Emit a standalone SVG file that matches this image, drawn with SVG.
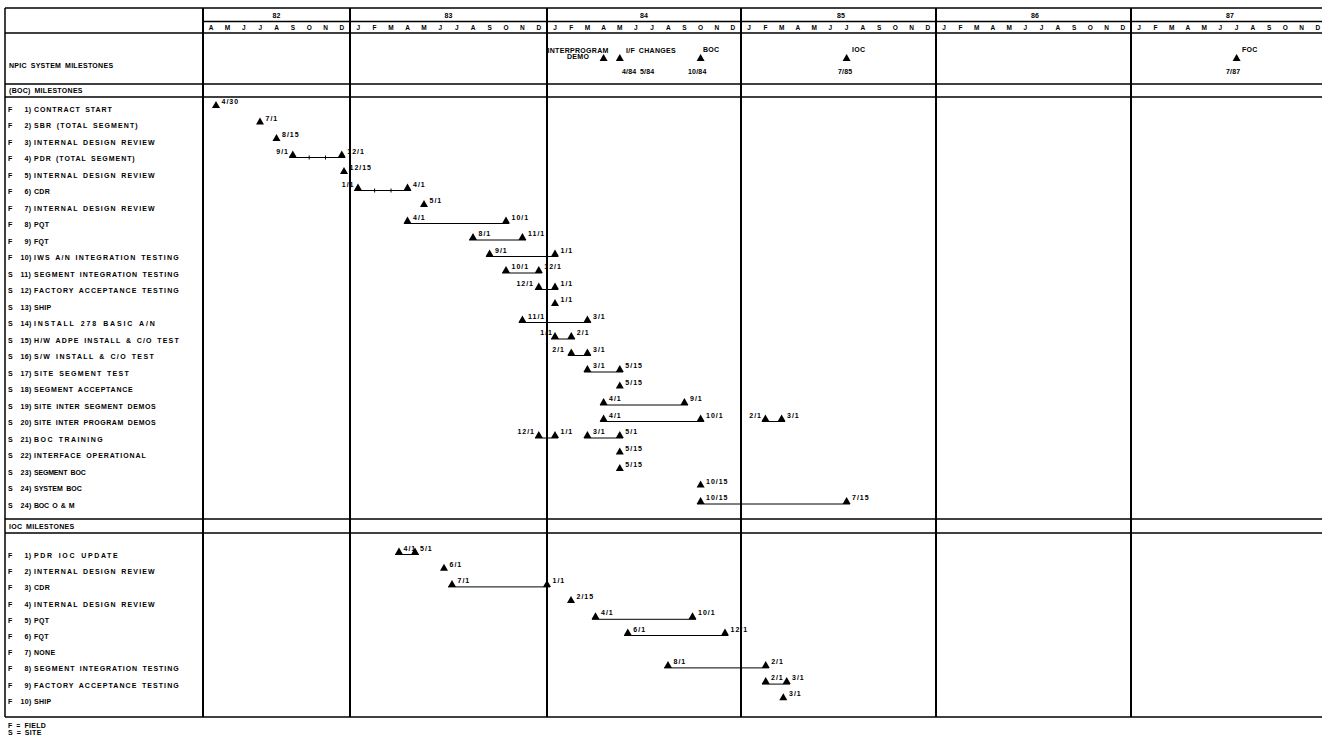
<svg xmlns="http://www.w3.org/2000/svg" width="1322" height="740" viewBox="0 0 1322 740">
<style>
.t{font-family:"Liberation Sans",Arial,sans-serif;font-weight:bold;font-size:7px;fill:#000;letter-spacing:0.3px;word-spacing:1.5px}
.d{font-family:"Liberation Sans",Arial,sans-serif;font-weight:bold;font-size:7px;fill:#000;letter-spacing:1px}
.n{font-family:"Liberation Sans",Arial,sans-serif;font-weight:bold;font-size:7px;fill:#000;letter-spacing:0.2px}
.e{text-anchor:end}
.m{font-family:"Liberation Sans",Arial,sans-serif;font-weight:bold;font-size:6.5px;fill:#000;text-anchor:middle}
.y{font-family:"Liberation Sans",Arial,sans-serif;font-weight:bold;font-size:7px;fill:#000;text-anchor:middle}
.g{stroke:#000;stroke-width:1.5;fill:none}
.v{stroke:#000;stroke-width:2;fill:none}
.bar{stroke:#000;stroke-width:1;fill:none}
</style>
<defs>
<path id="tri" d="M-4,0 L4,0 L0,-7 Z" fill="#000"/>
</defs>
<rect width="1322" height="740" fill="#fff"/>

<g id="grid">
<line class="g" x1="5" y1="8" x2="1322" y2="8"/>
<line class="g" x1="203" y1="21.5" x2="1322" y2="21.5"/>
<line class="g" x1="5" y1="33" x2="1322" y2="33"/>
<line class="g" x1="5" y1="84" x2="1322" y2="84"/>
<line class="g" x1="5" y1="97" x2="1322" y2="97"/>
<line class="g" x1="5" y1="519" x2="1322" y2="519"/>
<line class="g" x1="5" y1="533" x2="1322" y2="533"/>
<line class="g" x1="5" y1="717" x2="1322" y2="717"/>
<line class="g" x1="5" y1="8" x2="5" y2="717"/>
<line class="v" x1="203" y1="8" x2="203" y2="717"/>
<line class="v" x1="350" y1="8" x2="350" y2="717"/>
<line class="v" x1="547" y1="8" x2="547" y2="717"/>
<line class="v" x1="741" y1="8" x2="741" y2="717"/>
<line class="v" x1="936" y1="8" x2="936" y2="717"/>
<line class="v" x1="1131" y1="8" x2="1131" y2="717"/>
</g>

<g id="header">
<text class="y" x="276.5" y="17.5">82</text>
<text class="y" x="448.5" y="17.5">83</text>
<text class="y" x="644" y="17.5">84</text>
<text class="y" x="841" y="17.5">85</text>
<text class="y" x="1035" y="17.5">86</text>
<text class="y" x="1230" y="17.5">87</text>
<text class="m" y="30" x="211.2 219.4 227.5 235.7 243.8 252 260.2 268.4 276.5 284.7 292.8 301 309.2 317.4 325.5 333.7 341.8">A M J J A S O N D</text>
<text class="m" y="30" x="358.2 366.4 374.6 382.8 391 399.3 407.5 415.7 423.9 432.1 440.3 448.5 456.7 464.9 473.1 481.4 489.6 497.8 506 514.2 522.4 530.6 538.8">J F M A M J J A S O N D</text>
<text class="m" y="30" x="555.1 563.2 571.3 579.4 587.4 595.5 603.6 611.7 619.8 627.9 635.9 644 652.1 660.2 668.3 676.4 684.4 692.5 700.6 708.7 716.8 724.9 732.9">J F M A M J J A S O N D</text>
<text class="m" y="30" x="749.1 757.3 765.4 773.5 781.6 789.8 797.9 806 814.1 822.3 830.4 838.5 846.6 854.8 862.9 871 879.1 887.3 895.4 903.5 911.6 919.8 927.9">J F M A M J J A S O N D</text>
<text class="m" y="30" x="944.1 952.3 960.4 968.5 976.6 984.8 992.9 1001 1009.1 1017.3 1025.4 1033.5 1041.6 1049.8 1057.9 1066 1074.1 1082.3 1090.4 1098.5 1106.6 1114.8 1122.9">J F M A M J J A S O N D</text>
<text class="m" y="30" x="1139.1 1147.3 1155.4 1163.5 1171.6 1179.8 1187.9 1196 1204.1 1212.3 1220.4 1228.5 1236.6 1244.8 1252.9 1261 1269.1 1277.3 1285.4 1293.5 1301.6 1309.8 1317.9">J F M A M J J A S O N D</text>
</g>

<g id="npic-milestones">
<text class="t" x="9" y="67.5">NPIC SYSTEM MILESTONES</text>
<text class="t" x="547.5" y="52.5">INTERPROGRAM</text>
<text class="t" x="567" y="59">DEMO</text>
<text class="t" x="626" y="52.5">I/F CHANGES</text>
<text class="t" x="703" y="51.5">BOC</text>
<text class="t" x="852" y="52">IOC</text>
<text class="t" x="1242" y="52">FOC</text>
<use href="#tri" x="603.6" y="61"/>
<use href="#tri" x="619.8" y="61"/>
<use href="#tri" x="700.6" y="61"/>
<use href="#tri" x="846.6" y="61"/>
<use href="#tri" x="1236.6" y="61"/>
<text class="n" x="622" y="73.5">4/84</text>
<text class="n" x="640" y="73.5">5/84</text>
<text class="n" x="688" y="73.5">10/84</text>
<text class="n" x="838" y="73.5">7/85</text>
<text class="n" x="1226" y="73.5">7/87</text>
</g>

<g id="boc-header"><text class="t" x="9" y="92.5">(BOC) MILESTONES</text></g>

<g id="connectors">
<line class="bar" x1="289" y1="157.5" x2="345" y2="157.5"/>
<line class="bar" x1="309.2" y1="155.5" x2="309.2" y2="159.5"/>
<line class="bar" x1="325.5" y1="155.5" x2="325.5" y2="159.5"/>
<line class="bar" x1="354" y1="190.5" x2="411" y2="190.5"/>
<line class="bar" x1="374.6" y1="188.5" x2="374.6" y2="192.5"/>
<line class="bar" x1="391" y1="188.5" x2="391" y2="192.5"/>
<line class="bar" x1="404" y1="223.5" x2="509" y2="223.5"/>
<line class="bar" x1="469" y1="240" x2="526" y2="240"/>
<line class="bar" x1="486" y1="256.5" x2="558" y2="256.5"/>
<line class="bar" x1="502" y1="273" x2="542" y2="273"/>
<line class="bar" x1="535" y1="289.5" x2="558" y2="289.5"/>
<line class="bar" x1="519" y1="322.5" x2="591" y2="322.5"/>
<line class="bar" x1="551" y1="339" x2="575" y2="339"/>
<line class="bar" x1="568" y1="355.5" x2="591" y2="355.5"/>
<line class="bar" x1="584" y1="372" x2="623" y2="372"/>
<line class="bar" x1="600" y1="405" x2="688" y2="405"/>
<line class="bar" x1="600" y1="421.5" x2="704" y2="421.5"/>
<line class="bar" x1="762" y1="421.5" x2="785" y2="421.5"/>
<line class="bar" x1="535" y1="438" x2="558" y2="438"/>
<line class="bar" x1="584" y1="438" x2="623" y2="438"/>
<line class="bar" x1="697" y1="504" x2="850" y2="504"/>
<line class="bar" x1="395" y1="554.5" x2="419" y2="554.5"/>
<line class="bar" x1="448" y1="586.9" x2="550" y2="586.9"/>
<line class="bar" x1="592" y1="619.3" x2="696" y2="619.3"/>
<line class="bar" x1="624" y1="635.5" x2="728" y2="635.5"/>
<line class="bar" x1="664" y1="667.9" x2="769" y2="667.9"/>
<line class="bar" x1="762" y1="684.1" x2="790" y2="684.1"/>
</g>

<g id="boc-1" transform="translate(0,108)"><text class="t" y="3.5"><tspan x="8">F</tspan> <tspan x="24.5">1)</tspan> <tspan x="34" textLength="78" lengthAdjust="spacing">CONTRACT START</tspan></text>
<use href="#tri" x="216"/><text class="d" x="221.5" y="-4">4/30</text></g>
<g id="boc-2" transform="translate(0,124.5)"><text class="t" y="3.5"><tspan x="8">F</tspan> <tspan x="24.5">2)</tspan> <tspan x="34" textLength="104" lengthAdjust="spacing">SBR (TOTAL SEGMENT)</tspan></text>
<use href="#tri" x="260"/><text class="d" x="265.5" y="-4">7/1</text></g>
<g id="boc-3" transform="translate(0,141)"><text class="t" y="3.5"><tspan x="8">F</tspan> <tspan x="24.5">3)</tspan> <tspan x="34" textLength="121" lengthAdjust="spacing">INTERNAL DESIGN REVIEW</tspan></text>
<use href="#tri" x="276.5"/><text class="d" x="282" y="-4">8/15</text></g>
<g id="boc-4" transform="translate(0,157.5)"><text class="t" y="3.5"><tspan x="8">F</tspan> <tspan x="24.5">4)</tspan> <tspan x="34" textLength="101" lengthAdjust="spacing">PDR (TOTAL SEGMENT)</tspan></text>
<use href="#tri" x="292.8"/><text class="d e" x="289" y="-4">9/1</text>
<use href="#tri" x="341.8"/><text class="d" x="347.3" y="-4">12/1</text></g>
<g id="boc-5" transform="translate(0,174)"><text class="t" y="3.5"><tspan x="8">F</tspan> <tspan x="24.5">5)</tspan> <tspan x="34" textLength="121" lengthAdjust="spacing">INTERNAL DESIGN REVIEW</tspan></text>
<use href="#tri" x="344"/><text class="d" x="349.5" y="-4">12/15</text></g>
<g id="boc-6" transform="translate(0,190.5)"><text class="t" y="3.5"><tspan x="8">F</tspan> <tspan x="24.5">6)</tspan> <tspan x="34">CDR</tspan></text>
<use href="#tri" x="358"/><text class="d e" x="354.5" y="-4">1/1</text>
<use href="#tri" x="407.5"/><text class="d" x="413" y="-4">4/1</text></g>
<g id="boc-7" transform="translate(0,207)"><text class="t" y="3.5"><tspan x="8">F</tspan> <tspan x="24.5">7)</tspan> <tspan x="34" textLength="121" lengthAdjust="spacing">INTERNAL DESIGN REVIEW</tspan></text>
<use href="#tri" x="424"/><text class="d" x="429.5" y="-4">5/1</text></g>
<g id="boc-8" transform="translate(0,223.5)"><text class="t" y="3.5"><tspan x="8">F</tspan> <tspan x="24.5">8)</tspan> <tspan x="34">PQT</tspan></text>
<use href="#tri" x="407.5"/><text class="d" x="413" y="-4">4/1</text>
<use href="#tri" x="506"/><text class="d" x="511.5" y="-4">10/1</text></g>
<g id="boc-9" transform="translate(0,240)"><text class="t" y="3.5"><tspan x="8">F</tspan> <tspan x="24.5">9)</tspan> <tspan x="34">FQT</tspan></text>
<use href="#tri" x="473"/><text class="d" x="478.5" y="-4">8/1</text>
<use href="#tri" x="522.4"/><text class="d" x="528" y="-4">11/1</text></g>
<g id="boc-10" transform="translate(0,256.5)"><text class="t" y="3.5"><tspan x="8">F</tspan> <tspan x="20.5">10)</tspan> <tspan x="34" textLength="145" lengthAdjust="spacing">IWS A/N INTEGRATION TESTING</tspan></text>
<use href="#tri" x="489.6"/><text class="d" x="495" y="-4">9/1</text>
<use href="#tri" x="555"/><text class="d" x="560.5" y="-4">1/1</text></g>
<g id="boc-11" transform="translate(0,273)"><text class="t" y="3.5"><tspan x="8">S</tspan> <tspan x="20.5">11)</tspan> <tspan x="34" textLength="145" lengthAdjust="spacing">SEGMENT INTEGRATION TESTING</tspan></text>
<use href="#tri" x="506"/><text class="d" x="511.5" y="-4">10/1</text>
<use href="#tri" x="538.8"/><text class="d" x="544.3" y="-4">12/1</text></g>
<g id="boc-12" transform="translate(0,289.5)"><text class="t" y="3.5"><tspan x="8">S</tspan> <tspan x="20.5">12)</tspan> <tspan x="34" textLength="145" lengthAdjust="spacing">FACTORY ACCEPTANCE TESTING</tspan></text>
<use href="#tri" x="538.8"/><text class="d e" x="534" y="-4">12/1</text>
<use href="#tri" x="555"/><text class="d" x="560.5" y="-4">1/1</text></g>
<g id="boc-13" transform="translate(0,306)"><text class="t" y="3.5"><tspan x="8">S</tspan> <tspan x="20.5">13)</tspan> <tspan x="34">SHIP</tspan></text>
<use href="#tri" x="555"/><text class="d" x="560.5" y="-4">1/1</text></g>
<g id="boc-14" transform="translate(0,322.5)"><text class="t" y="3.5"><tspan x="8">S</tspan> <tspan x="20.5">14)</tspan> <tspan x="34" textLength="121" lengthAdjust="spacing">INSTALL 278 BASIC A/N</tspan></text>
<use href="#tri" x="522.4"/><text class="d" x="528" y="-4">11/1</text>
<use href="#tri" x="587.4"/><text class="d" x="593" y="-4">3/1</text></g>
<g id="boc-15" transform="translate(0,339)"><text class="t" y="3.5"><tspan x="8">S</tspan> <tspan x="20.5">15)</tspan> <tspan x="34" textLength="145" lengthAdjust="spacing">H/W ADPE INSTALL &amp; C/O TEST</tspan></text>
<use href="#tri" x="555"/><text class="d e" x="553" y="-4">1/1</text>
<use href="#tri" x="571.3"/><text class="d" x="576.8" y="-4">2/1</text></g>
<g id="boc-16" transform="translate(0,355.5)"><text class="t" y="3.5"><tspan x="8">S</tspan> <tspan x="20.5">16)</tspan> <tspan x="34" textLength="120" lengthAdjust="spacing">S/W INSTALL &amp; C/O TEST</tspan></text>
<use href="#tri" x="571.3"/><text class="d e" x="565" y="-4">2/1</text>
<use href="#tri" x="587.4"/><text class="d" x="593" y="-4">3/1</text></g>
<g id="boc-17" transform="translate(0,372)"><text class="t" y="3.5"><tspan x="8">S</tspan> <tspan x="20.5">17)</tspan> <tspan x="34" textLength="95" lengthAdjust="spacing">SITE SEGMENT TEST</tspan></text>
<use href="#tri" x="587.4"/><text class="d" x="593" y="-4">3/1</text>
<use href="#tri" x="619.8"/><text class="d" x="625.3" y="-4">5/15</text></g>
<g id="boc-18" transform="translate(0,388.5)"><text class="t" y="3.5"><tspan x="8">S</tspan> <tspan x="20.5">18)</tspan> <tspan x="34" textLength="99" lengthAdjust="spacing">SEGMENT ACCEPTANCE</tspan></text>
<use href="#tri" x="619.8"/><text class="d" x="625.3" y="-4">5/15</text></g>
<g id="boc-19" transform="translate(0,405)"><text class="t" y="3.5"><tspan x="8">S</tspan> <tspan x="20.5">19)</tspan> <tspan x="34" textLength="122" lengthAdjust="spacing">SITE INTER SEGMENT DEMOS</tspan></text>
<use href="#tri" x="603.6"/><text class="d" x="609" y="-4">4/1</text>
<use href="#tri" x="684.4"/><text class="d" x="690" y="-4">9/1</text></g>
<g id="boc-20" transform="translate(0,421.5)"><text class="t" y="3.5"><tspan x="8">S</tspan> <tspan x="20.5">20)</tspan> <tspan x="34" textLength="122" lengthAdjust="spacing">SITE INTER PROGRAM DEMOS</tspan></text>
<use href="#tri" x="603.6"/><text class="d" x="609" y="-4">4/1</text>
<use href="#tri" x="700.6"/><text class="d" x="706" y="-4">10/1</text>
<use href="#tri" x="765.4"/><text class="d e" x="762" y="-4">2/1</text>
<use href="#tri" x="781.6"/><text class="d" x="787" y="-4">3/1</text></g>
<g id="boc-21" transform="translate(0,438)"><text class="t" y="3.5"><tspan x="8">S</tspan> <tspan x="20.5">21)</tspan> <tspan x="34" textLength="69" lengthAdjust="spacing">BOC TRAINING</tspan></text>
<use href="#tri" x="538.8"/><text class="d e" x="535" y="-4">12/1</text>
<use href="#tri" x="555"/><text class="d" x="560.5" y="-4">1/1</text>
<use href="#tri" x="587.4"/><text class="d" x="593" y="-4">3/1</text>
<use href="#tri" x="619.8"/><text class="d" x="625.3" y="-4">5/1</text></g>
<g id="boc-22" transform="translate(0,454.5)"><text class="t" y="3.5"><tspan x="8">S</tspan> <tspan x="20.5">22)</tspan> <tspan x="34" textLength="112" lengthAdjust="spacing">INTERFACE OPERATIONAL</tspan></text>
<use href="#tri" x="619.8"/><text class="d" x="625.3" y="-4">5/15</text></g>
<g id="boc-23" transform="translate(0,471)"><text class="t" y="3.5"><tspan x="8">S</tspan> <tspan x="20.5">23)</tspan> <tspan x="34" textLength="52" lengthAdjust="spacing">SEGMENT BOC</tspan></text>
<use href="#tri" x="619.8"/><text class="d" x="625.3" y="-4">5/15</text></g>
<g id="boc-24" transform="translate(0,487.5)"><text class="t" y="3.5"><tspan x="8">S</tspan> <tspan x="20.5">24)</tspan> <tspan x="34" textLength="48" lengthAdjust="spacing">SYSTEM BOC</tspan></text>
<use href="#tri" x="700.6"/><text class="d" x="706" y="-4">10/15</text></g>
<g id="boc-25" transform="translate(0,504)"><text class="t" y="3.5"><tspan x="8">S</tspan> <tspan x="20.5">24)</tspan> <tspan x="34" textLength="41" lengthAdjust="spacing">BOC O &amp; M</tspan></text>
<use href="#tri" x="700.6"/><text class="d" x="706" y="-4">10/15</text>
<use href="#tri" x="846.6"/><text class="d" x="852" y="-4">7/15</text></g>

<g id="ioc-header"><text class="t" x="9" y="528.5">IOC MILESTONES</text></g>

<g id="ioc-1" transform="translate(0,554.5)"><text class="t" y="3.5"><tspan x="8">F</tspan> <tspan x="24.5">1)</tspan> <tspan x="34" textLength="84" lengthAdjust="spacing">PDR IOC UPDATE</tspan></text>
<use href="#tri" x="399"/><text class="d" x="403.5" y="-4">4/1</text>
<use href="#tri" x="415"/><text class="d" x="420" y="-4">5/1</text></g>
<g id="ioc-2" transform="translate(0,570.7)"><text class="t" y="3.5"><tspan x="8">F</tspan> <tspan x="24.5">2)</tspan> <tspan x="34" textLength="121" lengthAdjust="spacing">INTERNAL DESIGN REVIEW</tspan></text>
<use href="#tri" x="444"/><text class="d" x="449.5" y="-4">6/1</text></g>
<g id="ioc-3" transform="translate(0,586.9)"><text class="t" y="3.5"><tspan x="8">F</tspan> <tspan x="24.5">3)</tspan> <tspan x="34">CDR</tspan></text>
<use href="#tri" x="452"/><text class="d" x="457.5" y="-4">7/1</text>
<use href="#tri" x="547"/><text class="d" x="552.5" y="-4">1/1</text></g>
<g id="ioc-4" transform="translate(0,603.1)"><text class="t" y="3.5"><tspan x="8">F</tspan> <tspan x="24.5">4)</tspan> <tspan x="34" textLength="121" lengthAdjust="spacing">INTERNAL DESIGN REVIEW</tspan></text>
<use href="#tri" x="571"/><text class="d" x="576.5" y="-4">2/15</text></g>
<g id="ioc-5" transform="translate(0,619.3)"><text class="t" y="3.5"><tspan x="8">F</tspan> <tspan x="24.5">5)</tspan> <tspan x="34">PQT</tspan></text>
<use href="#tri" x="595.5"/><text class="d" x="601" y="-4">4/1</text>
<use href="#tri" x="692.5"/><text class="d" x="698" y="-4">10/1</text></g>
<g id="ioc-6" transform="translate(0,635.5)"><text class="t" y="3.5"><tspan x="8">F</tspan> <tspan x="24.5">6)</tspan> <tspan x="34">FQT</tspan></text>
<use href="#tri" x="627.8"/><text class="d" x="633.3" y="-4">6/1</text>
<use href="#tri" x="725"/><text class="d" x="730.5" y="-4">12/1</text></g>
<g id="ioc-7" transform="translate(0,651.7)"><text class="t" y="3.5"><tspan x="8">F</tspan> <tspan x="24.5">7)</tspan> <tspan x="34">NONE</tspan></text></g>
<g id="ioc-8" transform="translate(0,667.9)"><text class="t" y="3.5"><tspan x="8">F</tspan> <tspan x="24.5">8)</tspan> <tspan x="34" textLength="145" lengthAdjust="spacing">SEGMENT INTEGRATION TESTING</tspan></text>
<use href="#tri" x="668"/><text class="d" x="673.5" y="-4">8/1</text>
<use href="#tri" x="765.7"/><text class="d" x="771.2" y="-4">2/1</text></g>
<g id="ioc-9" transform="translate(0,684.1)"><text class="t" y="3.5"><tspan x="8">F</tspan> <tspan x="24.5">9)</tspan> <tspan x="34" textLength="145" lengthAdjust="spacing">FACTORY ACCEPTANCE TESTING</tspan></text>
<use href="#tri" x="765.7"/><text class="d" x="771" y="-4">2/1</text>
<use href="#tri" x="786.7"/><text class="d" x="792" y="-4">3/1</text></g>
<g id="ioc-10" transform="translate(0,700.3)"><text class="t" y="3.5"><tspan x="8">F</tspan> <tspan x="20.5">10)</tspan> <tspan x="34">SHIP</tspan></text>
<use href="#tri" x="783.3"/><text class="d" x="789" y="-4">3/1</text></g>

<g id="legend">
<text class="t" x="8" y="727.5">F = FIELD</text>
<text class="t" x="8" y="734.5">S = SITE</text>
</g>
</svg>
